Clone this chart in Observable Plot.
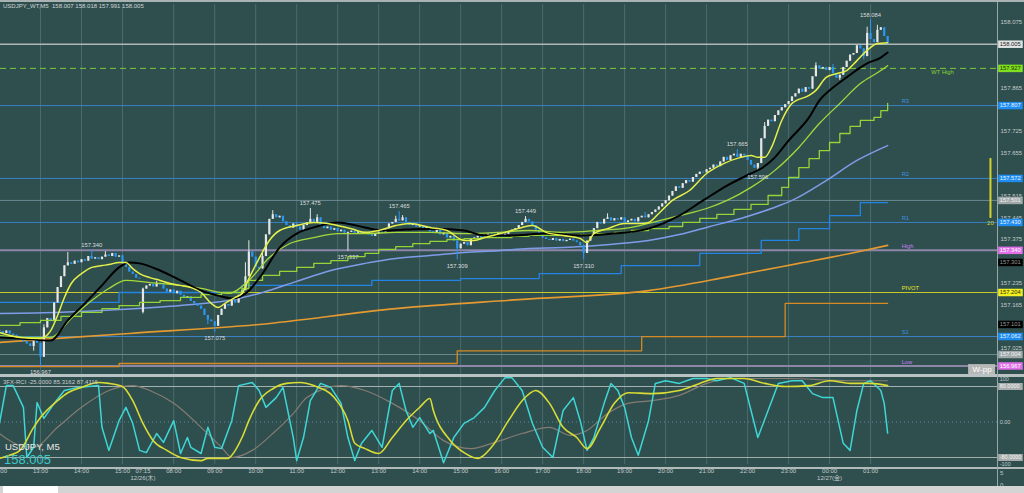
<!DOCTYPE html>
<html><head><meta charset="utf-8">
<script src="https://cdn.jsdelivr.net/npm/d3@7"></script>
<script src="https://cdn.jsdelivr.net/npm/@observablehq/plot@0.6"></script>
<style>
html,body{margin:0;padding:0;background:#2f4f4f;}
#wrap{position:relative;width:1024px;height:493px;background:#2f4f4f;overflow:hidden;font-family:"Liberation Sans","Noto Sans CJK JP",Arial,sans-serif;}
</style></head><body><div id="wrap"></div>
<script>
// ---------------- DATA ----------------
const BASE = 157.0;
// close of each 5-minute bar, in thousandths of a yen above 157.000 (bar 0 = 12/25 12:00)
const closeOffset = [78,72,80,70,66,58,52,45,38,30,48,40,
 -5,90,120,110,170,220,255,290,300,295,305,300,
 310,305,320,312,316,310,318,325,320,330,318,322,
 300,285,270,262,250,248,
 215,225,230,222,232,228,215,205,212,200,208,195,
 185,190,175,168,160,150,130,115,110,95,130,150,
 165,160,178,170,195,210,255,335,318,285,280,320,
 390,440,455,445,450,432,420,412,425,415,405,420,
 428,440,430,445,420,410,415,405,410,400,405,395,
 398,402,395,400,392,398,390,385,392,400,395,410,
 425,430,440,435,445,430,420,425,415,420,410,415,
 400,395,405,390,395,380,385,370,345,360,365,355,
 375,380,385,378,388,392,385,390,395,385,392,398,
 405,410,420,430,440,432,420,405,395,380,375,372,
 378,370,375,368,372,376,370,365,355,330,370,385,
 410,430,425,440,445,435,442,438,445,430,435,440,
 432,445,450,445,455,462,470,480,490,500,515,530,
 545,540,555,565,560,575,585,592,590,600,605,615,
 610,625,640,630,645,650,640,650,645,630,615,605,
 620,700,740,760,755,775,790,800,810,820,835,845,
 860,850,865,860,900,935,925,930,920,930,910,895,
 905,930,950,970,975,1000,990,965,1040,1020,1010,1050,
 1058,1030,1005];
// opens that differ from the previous close (first bar, session gap)
const openGaps = [[0,82],[42,140]];
// visible wick extremes [bar, thousandths above 157]
const wickHighs = [[13,100],[20,333],[27,340],[31,336],[36,324],[42,218],[46,240],[72,300],[73,371],[77,330],[80,468],[91,475],[93,455],[116,450],[117,465],[118,452],[154,449],[178,458],[189,462],[216,665],[224,752],[239,945],[244,940],[254,1060],[255,1084],[257,1066]];
const wickLows = [[10,15],[12,-33],[36,296],[42,135],[61,100],[63,75],[102,337],[134,309],[171,310],[222,596],[246,888],[253,955]];

// marked highs / lows
const peakBars   = [12,27,63,91,102,117,134,154,171,216,222,255];
const peakPrices = [156.967,157.340,157.075,157.475,157.337,157.465,157.309,157.449,157.310,157.665,157.596,158.084];
const peakKinds  = ["low","high","low","high","low","high","low","high","low","high","low","high"];

// moving averages [bar, price]
const maFast = [[0,157.075],[6,157.059],[12,157.056],[15,157.081],[17,157.130],[19,157.188],[21,157.233],[24,157.265],[27,157.285],[30,157.291],[32,157.294],[35,157.301],[37,157.301],[39,157.281],[41,157.265],[44,157.252],[47,157.243],[50,157.233],[53,157.227],[56,157.220],[59,157.204],[62,157.169],[64,157.156],[66,157.169],[69,157.188],[71,157.201],[73,157.249],[76,157.314],[79,157.372],[82,157.404],[87,157.420],[92,157.430],[96,157.427],[99,157.420],[103,157.410],[107,157.398],[111,157.404],[116,157.420],[120,157.427],[126,157.414],[131,157.404],[136,157.372],[139,157.372],[142,157.381],[148,157.398],[153,157.414],[156,157.420],[160,157.398],[165,157.388],[170,157.378],[172,157.365],[174,157.394],[178,157.410],[183,157.427],[188,157.427],[190,157.430],[193,157.459],[197,157.501],[202,157.533],[207,157.588],[212,157.620],[217,157.640],[220,157.646],[222,157.640],[224,157.640],[226,157.672],[229,157.759],[232,157.814],[237,157.840],[239,157.856],[242,157.898],[245,157.910],[248,157.920],[251,157.952],[254,157.985],[257,158.007],[260,158.010]];
const maBlack = [[0,157.059],[6,157.056],[15,157.049],[20,157.114],[25,157.169],[30,157.227],[35,157.285],[38,157.301],[41,157.298],[47,157.275],[53,157.243],[59,157.210],[64,157.194],[68,157.185],[73,157.210],[77,157.265],[82,157.349],[87,157.394],[92,157.414],[99,157.430],[107,157.414],[112,157.404],[119,157.407],[128,157.410],[136,157.404],[142,157.388],[150,157.388],[160,157.394],[170,157.388],[180,157.394],[190,157.410],[199,157.452],[206,157.501],[213,157.549],[220,157.588],[223,157.604],[227,157.640],[231,157.694],[237,157.769],[240,157.823],[244,157.865],[248,157.898],[254,157.943],[258,157.962],[260,157.978]];
const maGreen = [[0,157.065],[9,157.059],[15,157.059],[21,157.120],[27,157.178],[32,157.217],[37,157.243],[44,157.236],[50,157.230],[59,157.217],[67,157.201],[73,157.243],[79,157.317],[85,157.362],[92,157.381],[99,157.394],[107,157.394],[116,157.398],[126,157.398],[136,157.394],[146,157.398],[155,157.404],[165,157.398],[175,157.404],[185,157.414],[190,157.427],[199,157.452],[207,157.475],[213,157.501],[220,157.543],[227,157.598],[234,157.672],[240,157.749],[246,157.814],[252,157.878],[258,157.920],[260,157.936]];
const maStepGreen = [[0,157.098],[6,157.107],[12,157.114],[18,157.127],[24,157.140],[30,157.152],[35,157.162],[41,157.172],[47,157.178],[53,157.188],[59,157.197],[65,157.204],[71,157.217],[73,157.243],[77,157.259],[82,157.272],[87,157.285],[92,157.298],[97,157.307],[102,157.320],[107,157.330],[111,157.343],[116,157.352],[121,157.362],[126,157.369],[131,157.375],[136,157.378],[141,157.381],[146,157.381],[150,157.385],[155,157.388],[160,157.388],[165,157.388],[170,157.391],[175,157.394],[180,157.398],[185,157.404],[190,157.410],[196,157.417],[200,157.430],[205,157.443],[210,157.456],[215,157.472],[220,157.488],[225,157.517],[229,157.543],[231,157.575],[234,157.607],[237,157.636],[240,157.662],[243,157.688],[246,157.717],[249,157.740],[252,157.759],[256,157.769],[258,157.791],[260,157.814]];
const maSlowBlue = [[0,157.136],[18,157.140],[35,157.149],[53,157.162],[67,157.178],[77,157.204],[87,157.240],[97,157.275],[107,157.298],[116,157.314],[126,157.323],[136,157.333],[146,157.339],[155,157.346],[165,157.349],[175,157.356],[185,157.365],[190,157.372],[199,157.391],[208,157.417],[217,157.443],[226,157.475],[232,157.501],[242,157.565],[251,157.630],[260,157.678]];
const maStepBlue = [[0,157.172],[35,157.204],[71,157.227],[109,157.243],[135,157.249],[158,157.265],[182,157.291],[205,157.330],[223,157.372],[234,157.410],[243,157.452],[252,157.494],[260,157.494]];
const maOrange = [[0,157.043],[38,157.072],[76,157.101],[116,157.152],[152,157.181],[190,157.210],[214,157.256],[234,157.298],[249,157.330],[260,157.356]];
const maStepOrange = [[0,156.965],[35,156.975],[134,157.016],[188,157.062],[230,157.169],[260,157.169]];

// pivot levels
const pivotNames  = ["R3","R2","R1","S1"];
const pivotValues = [157.807,157.572,157.430,157.062];
const pivotLevel  = 157.204;
const dayHighLow  = [157.340,156.967];
const wtHigh      = 157.927;
const wtBands     = [157.501,157.004];
const bidPrice    = 158.005;
const levelLabelText  = ["WT High","R3","R2","R1","High","PIVOT","S1","Low"];
const levelLabelPrice = [157.927,157.807,157.572,157.430,157.340,157.204,157.062,156.967];
const levelLabelKind  = ["wt","r","r","r","hl","pivot","r","hl"];

// price tags on the right scale
const tagPrices = [158.005,157.927,157.807,157.572,157.501,157.430,157.340,157.301,157.204,157.101,157.062,157.004,156.967];
const tagKinds  = ["bid","wt","r","r","gray","r","hl","ind","pivot","ind","r","gray","hl"];
const priceTicks = [158.075,158.005,157.935,157.865,157.795,157.725,157.655,157.585,157.515,157.445,157.375,157.305,157.235,157.165,157.095,157.025,156.955];
const sideBar = [{bar:290.1, from:157.443, to:157.636, label:"20"}];

// time axis
const hourTicks  = [0,12,24,36,42,51,63,75,87,99,111,123,135,147,159,171,183,195,207,219,231,243,255];
const hourLabels = ["12:00","13:00","14:00","15:00","07:15","08:00","09:00","10:00","11:00","12:00","13:00","14:00","15:00","16:00","17:00","18:00","19:00","20:00","21:00","22:00","23:00","00:00","01:00"];
const dateTicks  = [42,243];
const dateLabels = ["12/26(木)","12/27(金)"];

// RCI oscillator [bar, value]
const rciFast = [[0,-3],[2,82],[4,82],[7,33],[8,-80],[10,-57],[11,44],[13,8],[16,42],[19,71],[23,78],[29,82],[30,-12],[32,-64],[35,3],[37,33],[39,-3],[41,-64],[43,-69],[46,-26],[48,-46],[51,3],[53,-71],[55,-35],[56,-57],[59,-71],[61,-12],[63,-57],[65,-60],[68,3],[70,82],[74,89],[76,71],[78,33],[81,55],[83,78],[86,-35],[87,-87],[89,-35],[91,48],[94,87],[97,78],[100,42],[102,-35],[104,-87],[106,-48],[109,-19],[112,-57],[115,71],[117,87],[119,26],[121,-12],[123,10],[126,-26],[127,-19],[130,-92],[133,-35],[136,-3],[139,10],[142,33],[145,71],[148,100],[150,100],[153,71],[156,-3],[159,-57],[162,-80],[165,26],[168,55],[170,3],[172,-64],[174,-35],[177,42],[179,87],[181,71],[183,33],[185,-35],[187,-75],[190,3],[192,87],[195,93],[199,87],[203,98],[207,98],[210,93],[214,100],[218,87],[222,-35],[225,26],[228,87],[232,93],[235,93],[238,64],[241,55],[244,55],[247,-48],[249,-64],[251,26],[253,87],[255,93],[258,71],[259,42],[260,-25]];
const rciMid = [[0,-82],[3,-75],[6,-64],[10,-12],[12,10],[17,48],[20,66],[24,78],[29,89],[32,87],[36,80],[39,48],[42,-3],[45,-42],[49,-64],[53,-80],[59,-87],[61,-82],[67,-82],[68,-75],[71,-35],[73,3],[76,48],[80,75],[84,87],[88,89],[92,82],[98,55],[102,3],[104,-48],[107,-60],[111,-71],[115,-35],[119,3],[123,33],[126,53],[127,26],[132,-42],[136,-69],[140,-82],[144,-57],[149,3],[153,48],[157,71],[161,42],[165,-12],[169,-35],[172,-60],[176,-12],[180,42],[184,66],[191,64],[199,71],[205,87],[210,98],[218,98],[224,87],[230,80],[237,82],[243,93],[249,87],[255,87],[260,82]];
const rciSlow = [[0,-26],[6,-53],[10,-57],[17,-12],[24,33],[32,71],[39,82],[44,71],[51,42],[59,-12],[65,-57],[68,-80],[74,-64],[80,-26],[86,19],[90,55],[100,82],[107,71],[115,42],[123,3],[130,-42],[138,-60],[145,-46],[153,-26],[161,-12],[167,-30],[172,-19],[178,19],[184,42],[191,48],[199,60],[207,87],[214,98],[230,98],[249,93],[260,93]];
const oscTagValues = [80,-80];
const oscTagText = ["80.0000","-80.0000"];
const oscScaleValues = [100,0,-100];
const oscScaleText = ["100","0.00","-100"];

// ---------------- BUILD ----------------
const wrap = document.getElementById("wrap");
const gapMap = new Map(openGaps), hiMap = new Map(wickHighs), loMap = new Map(wickLows);
const px = v => BASE + v / 1000;
const candles = closeOffset.map((c, i) => {
  const o = gapMap.has(i) ? gapMap.get(i) : closeOffset[i - 1];
  const open = px(o), close = px(c);
  const high = hiMap.has(i) ? px(hiMap.get(i)) : Math.max(open, close);
  const low = loMap.has(i) ? px(loMap.get(i)) : Math.min(open, close);
  return {i, open, close, high, low, up: close >= open};
});
const peaks = peakBars.map((b, k) => ({b, p: peakPrices[k], kind: peakKinds[k]}));
const levelLabels = levelLabelText.map((t, k) => ({t, p: levelLabelPrice[k], kind: levelLabelKind[k]}));
const tags = tagPrices.map((p, k) => ({p, kind: tagKinds[k]}));
// tick labels hidden behind a price tag are not drawn (as on the terminal's scale)
const visibleTicks = priceTicks.filter(t => tagPrices.every(p => Math.abs(p - t) >= 0.0138));
const hours = hourTicks.map((b, k) => ({b, t: hourLabels[k]}));
const dates = dateTicks.map((b, k) => ({b, t: dateLabels[k]}));
const gridBars = hourTicks.filter(b => b !== 42);
const oscTags = oscTagValues.map((v, k) => ({v, t: oscTagText[k]}));
const oscScale = oscScaleValues.map((v, k) => ({v, t: oscScaleText[k]}));

const X_DOMAIN = [0.293, 292.16];
const GRID = "#4b6c6c";
const UP = "#e6e6e6", DOWN = "#2b97f2";
const labelColor = {r: "#3f8fe0", wt: "#86d42a", hl: "#c67ef0", pivot: "#e4e428"};
const tagBg = {bid: "#e2e4e4", wt: "#7ee01e", r: "#1e8cf0", gray: "#a0a8aa", hl: "#e070e8", ind: "#000000", pivot: "#f0f020"};
const tagFg = {bid: "#202020", wt: "#1c2c00", r: "#eaf4ff", gray: "#f4f4f4", hl: "#ffffff", ind: "#9a9a9a", pivot: "#2a2a00"};
const xOf = d => d[0], yOf = d => d[1];
const TAG_X1 = 292.5, TAG_X2 = 299.7, TAG_TX = 292.8;
const FONT = "Liberation Sans, Noto Sans CJK JP, Arial, sans-serif";

const main = Plot.plot({
  width: 1024, height: 370, marginLeft: 0, marginRight: 27, marginTop: 0, marginBottom: 0,
  style: {background: "transparent", overflow: "visible", fontFamily: FONT},
  x: {domain: X_DOMAIN, axis: null},
  y: {domain: [156.9395, 158.1331], axis: null},
  color: {type: "identity"},
  marks: [
    Plot.ruleX(gridBars, {x: d => d, stroke: GRID, strokeWidth: 1}),
    Plot.ruleY(wtBands, {y: d => d, stroke: "#6a8890", strokeWidth: 1}),
    Plot.ruleY(pivotValues, {y: d => d, stroke: "#3a80c4", strokeWidth: 1}),
    Plot.ruleY(dayHighLow, {y: d => d, stroke: "#8e86a8", strokeWidth: 2}),
    Plot.ruleY([pivotLevel], {y: d => d, stroke: "#c8c828", strokeWidth: 1.2}),
    Plot.ruleY([wtHigh], {y: d => d, stroke: "#7cc83a", strokeWidth: 1, strokeDasharray: "6,4"}),
    Plot.ruleY([bidPrice], {y: d => d, stroke: "#b0b8b8", strokeWidth: 1.5}),
    Plot.line(maStepOrange, {x: xOf, y: yOf, stroke: "#d88a22", strokeWidth: 1.3, curve: "step-after"}),
    Plot.line(maOrange, {x: xOf, y: yOf, stroke: "#e49a30", strokeWidth: 1.6, curve: "monotone-x"}),
    Plot.line(maStepBlue, {x: xOf, y: yOf, stroke: "#2484e4", strokeWidth: 1.3, curve: "step-after"}),
    Plot.line(maSlowBlue, {x: xOf, y: yOf, stroke: "#7f9ce8", strokeWidth: 1.5, curve: "monotone-x"}),
    Plot.ruleX(candles, {x: "i", y1: "low", y2: "high", stroke: d => d.up ? UP : DOWN, strokeWidth: 1}),
    Plot.ruleX(candles, {x: "i", y1: "open", y2: "close", stroke: d => d.up ? UP : DOWN, strokeWidth: 2.2}),
    Plot.line(maStepGreen, {x: xOf, y: yOf, stroke: "#94d436", strokeWidth: 1.3, curve: "step-after"}),
    Plot.line(maGreen, {x: xOf, y: yOf, stroke: "#a6d83a", strokeWidth: 1.3, curve: "monotone-x"}),
    Plot.line(maBlack, {x: xOf, y: yOf, stroke: "#000000", strokeWidth: 2, curve: "monotone-x"}),
    Plot.line(maFast, {x: xOf, y: yOf, stroke: "#e6f04a", strokeWidth: 1.5, curve: "monotone-x"}),
    Plot.text(peaks.filter(d => d.kind === "high"), {x: "b", y: "p", text: d => d.p.toFixed(3), dy: -5, fill: "#dcdcdc", fontSize: 5.8}),
    Plot.text(peaks.filter(d => d.kind === "low"), {x: "b", y: "p", text: d => d.p.toFixed(3), dy: 6, fill: "#dcdcdc", fontSize: 5.8}),
    Plot.text(levelLabels.filter(d => d.kind !== "wt"), {x: 264.1, y: "p", text: "t", dy: -4, textAnchor: "start", fill: d => labelColor[d.kind], fontSize: 5.8}),
    Plot.text(levelLabels.filter(d => d.kind === "wt"), {x: 272.8, y: "p", text: "t", dy: 4, textAnchor: "start", fill: d => labelColor[d.kind], fontSize: 5.8}),
    Plot.ruleX(sideBar, {x: "bar", y1: "from", y2: "to", stroke: "#d4d42a", strokeWidth: 2}),
    Plot.text(sideBar, {x: "bar", y: "from", text: "label", dy: 5, fill: "#d4d42a", fontSize: 6}),
    Plot.ruleY([156.957], {y: d => d, x1: 283.7, x2: 291.6, stroke: "#b8b8b8", strokeWidth: 10}),
    Plot.text(["W-pp"], {x: 287.65, y: 156.957, text: d => d, fill: "#ffffff", fontSize: 8}),
    Plot.text(visibleTicks, {y: d => d, frameAnchor: "right", dx: 3, textAnchor: "start", text: d => d.toFixed(3), fill: "#c4caca", fontSize: 6}),
    Plot.ruleY(tags, {y: "p", x1: TAG_X1, x2: TAG_X2, stroke: d => tagBg[d.kind], strokeWidth: 7.5}),
    Plot.text(tags, {y: "p", x: TAG_TX, text: d => d.p.toFixed(3), textAnchor: "start", fill: d => tagFg[d.kind], fontSize: 5.8})
  ]
});

const osc = Plot.plot({
  width: 1024, height: 108, marginLeft: 0, marginRight: 27, marginTop: 0, marginBottom: 21,
  style: {background: "transparent", overflow: "visible", fontFamily: FONT},
  x: {domain: X_DOMAIN, axis: null},
  y: {domain: [-95.8, 100.3], axis: null},
  color: {type: "identity"},
  marks: [
    Plot.ruleX(gridBars, {x: d => d, stroke: GRID, strokeWidth: 1}),
    Plot.ruleY([80, -80], {y: d => d, stroke: "#a4b0b0", strokeWidth: 1}),
    Plot.ruleY([0], {y: d => d, stroke: "#5f8aa8", strokeDasharray: "1,3"}),
    Plot.line(rciSlow, {x: xOf, y: yOf, stroke: "#857c72", strokeWidth: 1.2, curve: "monotone-x"}),
    Plot.line(rciFast, {x: xOf, y: yOf, stroke: "#3fd6d6", strokeWidth: 1.5}),
    Plot.line(rciMid, {x: xOf, y: yOf, stroke: "#d8dc34", strokeWidth: 1.6, curve: "monotone-x"}),
    Plot.text(hours, {x: "b", frameAnchor: "bottom", dy: 8.5, text: "t", fill: "#c4caca", fontSize: 6}),
    Plot.text(dates, {x: "b", frameAnchor: "bottom", dy: 15.5, text: "t", fill: "#c4caca", fontSize: 6}),
    Plot.ruleY(oscTags, {y: "v", x1: TAG_X1, x2: TAG_X2, stroke: "#a8acac", strokeWidth: 7}),
    Plot.text(oscTags, {y: "v", x: TAG_TX, text: "t", textAnchor: "start", fill: "#f4f4f4", fontSize: 5.5}),
    Plot.text(oscScale.filter(d => d.v > 0), {y: "v", x: TAG_TX, text: "t", dy: 2, textAnchor: "start", fill: "#c4caca", fontSize: 5.5}),
    Plot.text(oscScale.filter(d => d.v === 0), {y: "v", x: TAG_TX, text: "t", textAnchor: "start", fill: "#c4caca", fontSize: 5.5}),
    Plot.text(oscScale.filter(d => d.v < 0), {y: "v", x: TAG_TX, text: "t", dy: -2, textAnchor: "start", fill: "#c4caca", fontSize: 5.5})
  ]
});

function put(node, top) {
  node.style.position = "absolute"; node.style.left = "0px"; node.style.top = top + "px";
  wrap.appendChild(node);
}
put(main, 4);
put(osc, 377);

function bar(l, t, w, h, bg) {
  const d = document.createElement("div");
  Object.assign(d.style, {position: "absolute", left: l + "px", top: t + "px", width: w + "px", height: h + "px", background: bg});
  wrap.appendChild(d);
}
function txt(l, t, s, size, color) {
  const d = document.createElement("div");
  Object.assign(d.style, {position: "absolute", left: l + "px", top: t + "px", fontSize: size + "px", color, whiteSpace: "pre", lineHeight: "1"});
  d.textContent = s;
  wrap.appendChild(d);
}
bar(0, 0, 1024, 2, "#a9b3b3");
bar(0, 374, 1024, 3, "#b8c2c2");
bar(0, 467, 1024, 2, "#b0baba");
bar(997, 2, 1, 484, "#9aa6a6");
bar(0, 486, 1024, 7, "#d4d4d4");
bar(3, 486, 55, 7, "#ffffff");
txt(3, 3, "USDJPY_WT,M5  158.007 158.018 157.991 158.005", 6, "#d0d6d6");
txt(3, 379, "3FX-RCI -25.0000 85.3162 87.4116", 6, "#c8cccc");
txt(5, 442, "USDJPY, M5", 9.5, "#e8e8e8");
txt(4, 453, "158.005", 13, "#3cc8c8");
txt(1000, 470, "5", 6, "#c4caca");
txt(1000, 482, "0", 6, "#c4caca");
</script></body></html>
